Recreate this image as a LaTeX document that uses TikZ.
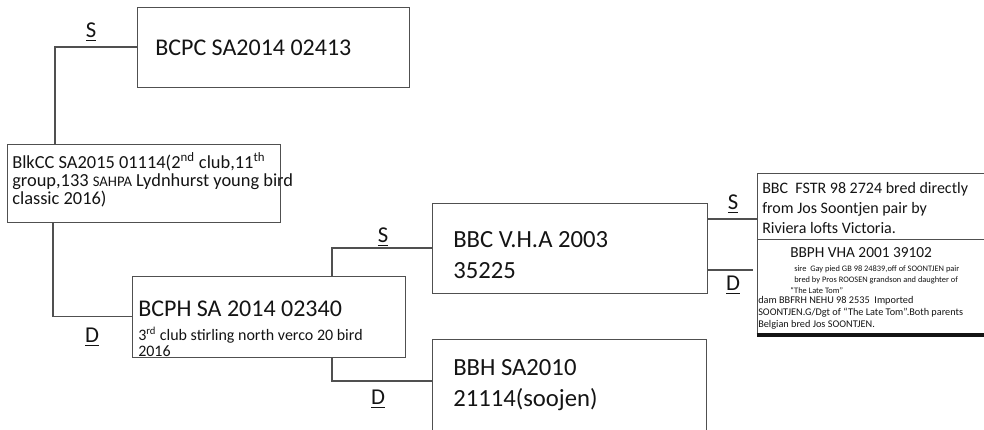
\documentclass[tikz,border=0pt]{standalone}
\usepackage{fontspec}
\setmainfont{Carlito}
\usetikzlibrary{fit,positioning}
\definecolor{penline}{RGB}{80,80,80}
\definecolor{inkblack}{RGB}{20,20,20}

\begin{document}
\begin{tikzpicture}[x=0.75pt,y=-0.75pt,
    pbox/.style={draw=penline,line width=0.7pt,inner sep=0pt},
    wire/.style={penline,line width=0.8pt},
    pen/.style={inkblack,font=\fontsize{17}{17}\selectfont},
    txt/.style={inkblack,anchor=base west,inner sep=0pt,align=left}]
    \clip (0,0) rectangle (984,429);

    % Boxes
    \node[pbox,fit={(137,7) (409,87)}] (sire) {};
    \node[pbox,fit={(7,144) (280,222)}] (bird) {};
    \node[pbox,fit={(132,276) (405,357)}] (dam) {};
    \node[pbox,fit={(432,203) (707,293)}] (ss) {};
    \node[pbox,fit={(432,339) (706,445)}] (sd) {};
    \node[pbox,fit={(757,173) (995,239)}] (sss) {};
    \node[pbox,fit={(757,239) (995,335)}] (ssd) {};
    \draw[inkblack,line width=3pt] (ssd.south west) -- (ssd.south east);

    % Texts (multi-line nodes sit on their last line)
    \node[txt,font=\fontsize{18}{23}\selectfont] (siret) at (155,55) {BCPC SA2014 02413};
    \node[txt,font=\fontsize{13.8}{13.5}\selectfont] (birdt) at (12,204)
        {BlkCC SA2015 01114(2\textsuperscript{nd} club,11\textsuperscript{th}\\
         group,133 {\fontsize{11}{11}\selectfont SAHPA} Lydnhurst young bird\\
         classic 2016)};
    \node[txt,font=\fontsize{18}{23}\selectfont] (damt) at (138,316) {BCPH SA 2014 02340};
    \node[txt,font=\fontsize{12}{12}\selectfont] (damd) at (138,356)
        {3\textsuperscript{rd} club stirling north verco 20 bird\\2016};
    \node[txt,font=\fontsize{18.5}{23.25}\selectfont] (sst) at (453,278) {BBC V.H.A 2003\\35225};
    \node[txt,font=\fontsize{18.5}{23.25}\selectfont] (sdt) at (453,406) {BBH SA2010\\21114(soojen)};
    \node[txt,font=\fontsize{12}{15}\selectfont] (ssst) at (762,233)
        {BBC\ \ FSTR 98 2724 bred directly\\from Jos Soontjen pair by\\Riviera lofts Victoria.};
    \node[txt,font=\fontsize{11.5}{11.5}\selectfont] (ssdt) at (790,257) {BBPH VHA 2001 39102};
    \node[txt,font=\fontsize{6.3}{8.25}\selectfont] (ssds) at (790,293)
        {\hspace*{3pt}sire\ \ Gay pied GB 98 24839,off of SOONTJEN pair\\
         \hspace*{3pt}bred by Pros ROOSEN grandson and daughter of\\
         “The Late Tom”};
    \node[txt,font=\fontsize{7.7}{9}\selectfont] (ssdd) at (758,327)
        {dam BBFRH NEHU 98 2535\ \ Imported\\
         SOONTJEN.G/Dgt of “The Late Tom”.Both parents\\
         Belgian bred Jos SOONTJEN.};

    % Connectors
    \coordinate (fork1) at (55,47);
    \coordinate (fork2) at (53,317);
    \coordinate (fork3) at (332,250);
    \coordinate (fork4) at (332,381);
    \coordinate (end5) at (757,219);
    \coordinate (end6) at (753,270);
    \draw[wire] (sire.west) -- (fork1) -- (fork1 |- bird.north);
    \draw[wire] (fork2 |- bird.south) |- (dam.west);
    \draw[wire] (fork3 |- dam.north) |- (ss.west);
    \draw[wire] (fork4 |- dam.south) |- (fork4 -| sd.west);
    \draw[wire] (end5 -| ss.east) -- (end5);
    \draw[wire] (end6 -| ss.east) -- (end6);

    % Sire / dam marks
    \node[pen] (mark1) at (91,32) {\underline{S}};
    \node[pen] (mark2) at (92,337) {\underline{D}};
    \node[pen] (mark3) at (383,237) {\underline{S}};
    \node[pen] (mark4) at (378,399) {\underline{D}};
    \node[pen] (mark5) at (733,204) {\underline{S}};
    \node[pen] (mark6) at (733,285) {\underline{D}};
\end{tikzpicture}
\end{document}
